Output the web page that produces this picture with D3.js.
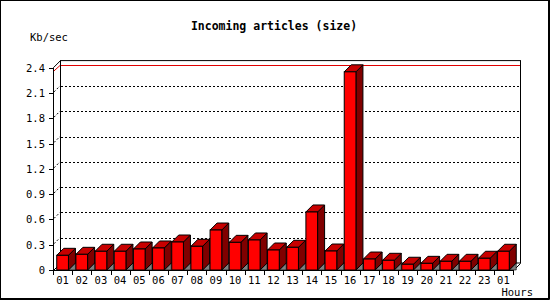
<!DOCTYPE html>
<html>
<head>
<meta charset="utf-8">
<script src="https://cdn.jsdelivr.net/npm/d3@7"></script>
<style>
  body { margin: 0; background: #fff; }
  svg { display: block; }
  text { font-family: "DejaVu Sans Mono", monospace; fill: #000; }
  .title { font-size: 11.5px; font-weight: bold; }
  .lbl { font-size: 10.5px; }
</style>
</head>
<body>
<svg id="chart" width="550" height="300"></svg>
<script>
const hours = ['01', '02', '03', '04', '05', '06', '07', '08', '09', '10', '11', '12',
  '13', '14', '15', '16', '17', '18', '19', '20', '21', '22', '23', '01'];
const sizes = [0.174, 0.186, 0.222, 0.222, 0.249, 0.261, 0.332, 0.281, 0.474, 0.328, 0.356, 0.237,
  0.269, 0.688, 0.225, 2.35, 0.130, 0.115, 0.068, 0.079, 0.103, 0.103, 0.139, 0.222];
const yTicks = [0, 0.3, 0.6, 0.9, 1.2, 1.5, 1.8, 2.1, 2.4];

const svg = d3.select('#chart');
const dx = 7, dy = -7;      // 3d depth offset
const plotL = 53, plotR = 513, plotB = 270, plotT = 67.6;

const x = d3.scaleBand()
  .domain(d3.range(hours.length))
  .range([plotL, plotR])
  .paddingInner(0.39)
  .paddingOuter(0.195);
const y = d3.scaleLinear().domain([0, 2.4]).range([plotB, plotT]);

// outer frame
svg.append('rect').attr('x', 0.5).attr('y', 0.5).attr('width', 548).attr('height', 298)
  .attr('fill', 'none').attr('stroke', '#000');
svg.append('path').attr('d', 'M549.5,0V299.5H0').attr('fill', 'none').attr('stroke', '#000');

svg.append('text').attr('class', 'title').attr('x', 274).attr('y', 30)
  .attr('text-anchor', 'middle').text('Incoming articles (size)');
svg.append('text').attr('class', 'lbl').attr('x', 30).attr('y', 41).text('Kb/sec');
svg.append('text').attr('class', 'lbl').attr('x', 533).attr('y', 296)
  .attr('text-anchor', 'end').text('Hours');

// back plane
const g = svg.append('g');
g.append('rect')
  .attr('x', plotL + dx + 0.5).attr('y', y(2.4) + dy)
  .attr('width', plotR - plotL).attr('height', y(0) - y(2.4))
  .attr('fill', '#fff').attr('stroke', '#000');

// grid on back plane and side wall
yTicks.filter(v => v > 0 && v < 2.4).forEach(v => {
  const yy = Math.round(y(v) + dy) + 0.5;
  g.append('line')
    .attr('x1', plotL + dx + 1).attr('x2', plotR + dx)
    .attr('y1', yy).attr('y2', yy)
    .attr('stroke', '#000').attr('stroke-dasharray', '2,2');
  g.append('line')
    .attr('x1', plotL + 1).attr('y1', y(v) - 1)
    .attr('x2', plotL + dx).attr('y2', y(v) + dy)
    .attr('stroke', '#000').attr('stroke-dasharray', '2,2');
});

// max line
const maxV = d3.max(sizes);
const ym = Math.round(y(maxV) + dy) + 0.5;
g.append('line')
  .attr('x1', plotL + dx + 1).attr('x2', plotR + dx)
  .attr('y1', ym).attr('y2', ym)
  .attr('stroke', '#e00000');
g.append('line')
  .attr('x1', plotL).attr('y1', y(maxV))
  .attr('x2', plotL + dx).attr('y2', ym)
  .attr('stroke', '#e00000');

// side wall and floor edges
g.append('path')
  .attr('d', `M${plotL + 0.5},${y(2.4)}L${plotL + dx + 0.5},${y(2.4) + dy}`
    + `M${plotL + 0.5},${plotB + 0.5}L${plotL + dx + 0.5},${plotB + dy + 0.5}`
    + `M${plotR + 0.5},${plotB + 0.5}L${plotR + dx + 0.5},${plotB + dy + 0.5}`)
  .attr('stroke', '#000').attr('fill', 'none');

// bars
const bars = g.selectAll('g.bar').data(sizes).join('g').attr('class', 'bar');
const bw = x.bandwidth();
bars.append('path')
  .attr('d', (d, i) => {
    const x1 = x(i) + bw;
    return `M${x1},${plotB}L${x1 + dx},${plotB + dy}L${x1 + dx},${plotB}Z`;
  })
  .attr('fill', '#808080').attr('stroke', '#000').attr('stroke-width', 0.6);
bars.append('path')
  .attr('d', (d, i) => {
    const x1 = x(i) + bw, yt = y(d);
    return `M${x1},${yt}L${x1 + dx},${yt + dy}L${x1 + dx},${plotB + dy}L${x1},${plotB}Z`;
  })
  .attr('fill', '#800000').attr('stroke', '#000');
bars.append('path')
  .attr('d', (d, i) => {
    const x0 = x(i), x1 = x0 + bw, yt = y(d);
    return `M${x0},${yt}L${x0 + dx},${yt + dy}L${x1 + dx},${yt + dy}L${x1},${yt}Z`;
  })
  .attr('fill', '#c80000').attr('stroke', '#000');
bars.append('rect')
  .attr('x', (d, i) => x(i)).attr('y', d => y(d))
  .attr('width', bw).attr('height', d => plotB - y(d))
  .attr('fill', '#ff0000').attr('stroke', '#000');

// y axis
const yAxis = svg.append('g').attr('transform', `translate(${plotL},0)`);
yAxis.append('line').attr('x1', 0.5).attr('x2', 0.5).attr('y1', y(2.4)).attr('y2', plotB + 0.5)
  .attr('stroke', '#000');
yTicks.forEach(v => {
  yAxis.append('line').attr('x1', -4).attr('x2', 0.5)
    .attr('y1', Math.round(y(v)) + 0.5).attr('y2', Math.round(y(v)) + 0.5).attr('stroke', '#000');
  yAxis.append('text').attr('class', 'lbl').attr('x', -8).attr('y', y(v) + 4)
    .attr('text-anchor', 'end').text(v === 0 ? '0' : v.toFixed(1));
});

// x axis
const xAxis = svg.append('g');
xAxis.append('line').attr('x1', plotL).attr('x2', plotR + 0.5)
  .attr('y1', plotB + 0.5).attr('y2', plotB + 0.5).attr('stroke', '#000');
const step = x.step();
d3.range(hours.length + 1).forEach(i => {
  const xx = Math.round(plotL + i * step) + 0.5;
  xAxis.append('line').attr('x1', xx).attr('x2', xx)
    .attr('y1', plotB).attr('y2', plotB + 5).attr('stroke', '#000');
});
hours.forEach((h, i) => {
  xAxis.append('text').attr('class', 'lbl')
    .attr('x', x(i) + bw / 2).attr('y', 284)
    .attr('text-anchor', 'middle').text(h);
});
</script>
</body>
</html>
